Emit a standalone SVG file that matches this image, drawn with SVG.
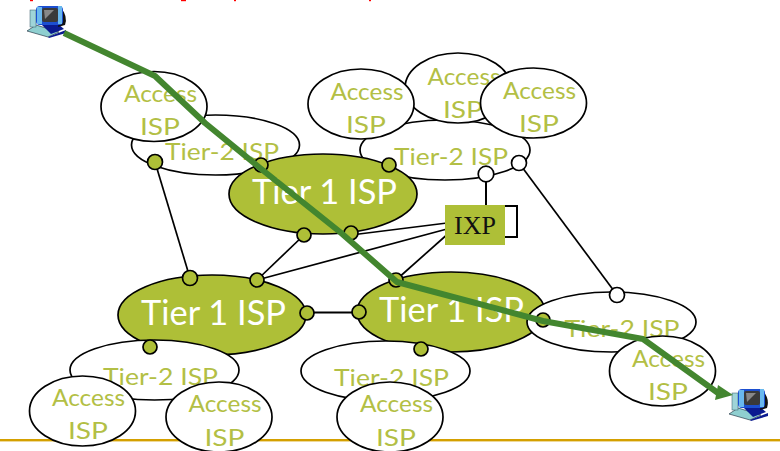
<svg xmlns="http://www.w3.org/2000/svg" width="780" height="451" viewBox="0 0 780 451">
<style>
text{font-family:"Lato","Open Sans",sans-serif;text-anchor:middle}
.e{fill:#fff;stroke:#000;stroke-width:1.7}
.t1{fill:#aebf37;stroke:#000;stroke-width:1.7}
.lbl{fill:#b3bf45;font-size:24px}
.big{fill:#fff;font-size:34px}
.dot{fill:#aebf37;stroke:#000;stroke-width:1.7}
.open{fill:#fff;stroke:#000;stroke-width:1.7}
.ln{stroke:#000;stroke-width:1.7;fill:none}
</style>
<defs>
<g id="pc">
<path d="M0 26L9 20L32 27L21 32z" fill="#8fcfd0" stroke="#123" stroke-width=".6"/>
<path d="M21 32L39 25L39 28L22 33z" fill="#0a1a90"/>
<path d="M14 19H31L37 24L24 29z" fill="#0a1a90"/>
<rect x="3" y="5" width="6" height="17" fill="#9fd4d8" stroke="#356" stroke-width=".5"/>
<path d="M34 3Q41 11 38 20L31 22z" fill="#111"/>
<rect x="9" y="1" width="27" height="19" rx="4" fill="#1c4fd0"/>
<rect x="10" y="2" width="5" height="17" fill="#69b8ee"/>
<rect x="31" y="1" width="4" height="18" fill="#69b8ee"/>
<rect x="15" y="3" width="16" height="14" rx="2" fill="#3a3a3a"/>
<path d="M17 5H27L18 14z" fill="#888"/>
</g>
</defs>
<g id="header-fragments" fill="#f00"><rect x="30" y="0" width="3" height="1.200"/><rect x="181" y="0" width="5" height="1.200"/><rect x="234" y="0" width="2" height="1.200"/><rect x="369" y="0" width="2" height="1.200"/></g>
<rect id="footer-rule" x="0" y="439" width="780" height="2.400" fill="#d4a000"/>
<g id="t2-a"><ellipse class="e" cx="215.500" cy="145" rx="84" ry="30"/><text class="lbl" x="222" y="160" textLength="114" lengthAdjust="spacingAndGlyphs">Tier-2 ISP</text></g>
<g id="t2-b"><ellipse class="e" cx="445" cy="150" rx="85" ry="30"/><text class="lbl" x="451" y="165" textLength="114" lengthAdjust="spacingAndGlyphs">Tier-2 ISP</text></g>
<g id="t1-top"><ellipse class="t1" cx="323" cy="194" rx="94" ry="40"/><text class="big" x="324.500" y="204" textLength="145" lengthAdjust="spacingAndGlyphs">Tier 1 ISP</text></g>
<g id="t1-left"><ellipse class="t1" cx="212" cy="315" rx="94" ry="40"/><text class="big" x="213.500" y="325" textLength="145" lengthAdjust="spacingAndGlyphs">Tier 1 ISP</text></g>
<g id="t1-right"><ellipse class="t1" cx="451" cy="312" rx="94" ry="40"/><text class="big" x="451.500" y="322" textLength="145" lengthAdjust="spacingAndGlyphs">Tier 1 ISP</text></g>
<g id="t2-c"><ellipse class="e" cx="154.500" cy="370" rx="84.500" ry="30"/><text class="lbl" x="160.500" y="385" textLength="115" lengthAdjust="spacingAndGlyphs">Tier-2 ISP</text></g>
<g id="t2-d"><ellipse class="e" cx="385.500" cy="371" rx="84.500" ry="30"/><text class="lbl" x="391.500" y="386" textLength="115" lengthAdjust="spacingAndGlyphs">Tier-2 ISP</text></g>
<g id="t2-e"><ellipse class="e" cx="611.500" cy="322" rx="84.500" ry="30"/><text class="lbl" x="622" y="337" textLength="115" lengthAdjust="spacingAndGlyphs">Tier-2 ISP</text></g>
<g id="a1"><ellipse class="e" cx="154" cy="106.500" rx="53" ry="35"/><text class="lbl" x="160.500" y="102" textLength="73" lengthAdjust="spacingAndGlyphs">Access</text><text class="lbl" x="160" y="135" textLength="40" lengthAdjust="spacingAndGlyphs">ISP</text></g>
<g id="a3"><ellipse class="e" cx="458" cy="88" rx="53" ry="35"/><text class="lbl" x="464" y="85" textLength="73" lengthAdjust="spacingAndGlyphs">Access</text><text class="lbl" x="463" y="118" textLength="40" lengthAdjust="spacingAndGlyphs">ISP</text></g>
<g id="a2"><ellipse class="e" cx="361" cy="104" rx="53" ry="35"/><text class="lbl" x="367" y="100" textLength="73" lengthAdjust="spacingAndGlyphs">Access</text><text class="lbl" x="366" y="133" textLength="40" lengthAdjust="spacingAndGlyphs">ISP</text></g>
<g id="a4"><ellipse class="e" cx="533.500" cy="103" rx="53" ry="35"/><text class="lbl" x="539.500" y="99" textLength="73" lengthAdjust="spacingAndGlyphs">Access</text><text class="lbl" x="539" y="132" textLength="40" lengthAdjust="spacingAndGlyphs">ISP</text></g>
<g id="a5"><ellipse class="e" cx="82.500" cy="411" rx="53" ry="35"/><text class="lbl" x="88.500" y="406" textLength="73" lengthAdjust="spacingAndGlyphs">Access</text><text class="lbl" x="88" y="439" textLength="40" lengthAdjust="spacingAndGlyphs">ISP</text></g>
<g id="a6"><ellipse class="e" cx="219" cy="417" rx="53" ry="35"/><text class="lbl" x="225" y="412" textLength="73" lengthAdjust="spacingAndGlyphs">Access</text><text class="lbl" x="224.500" y="446" textLength="40" lengthAdjust="spacingAndGlyphs">ISP</text></g>
<g id="a7"><ellipse class="e" cx="390" cy="417" rx="53" ry="35"/><text class="lbl" x="396.500" y="412" textLength="73" lengthAdjust="spacingAndGlyphs">Access</text><text class="lbl" x="396" y="446" textLength="40" lengthAdjust="spacingAndGlyphs">ISP</text></g>
<g id="a8"><ellipse class="e" cx="662.500" cy="371" rx="53" ry="35"/><text class="lbl" x="668.500" y="367" textLength="73" lengthAdjust="spacingAndGlyphs">Access</text><text class="lbl" x="668" y="400" textLength="40" lengthAdjust="spacingAndGlyphs">ISP</text></g>
<g id="connectors" class="ln">
<path d="M155 162L190 278"/>
<path d="M257 280L304 235"/>
<path d="M351 235L447 223"/>
<path d="M257 280L447 229"/>
<path d="M396 280L450 232"/>
<path d="M307 312.500H359" stroke-width="2"/>
<path d="M486 174V206" stroke-width="2"/>
<path d="M519 163L617 295"/>
</g>
<g id="ports">
<circle class="dot" cx="155" cy="162" r="7.500"/><circle class="dot" cx="261" cy="165" r="7"/><circle class="dot" cx="389" cy="165" r="7"/>
<circle class="dot" cx="304" cy="235" r="7"/><circle class="dot" cx="351" cy="233" r="7"/>
<circle class="dot" cx="190" cy="278" r="7.500"/><circle class="dot" cx="257" cy="280" r="7"/><circle class="dot" cx="396" cy="280" r="7"/>
<circle class="dot" cx="307" cy="313" r="7"/><circle class="dot" cx="359" cy="312" r="7"/>
<circle class="dot" cx="150" cy="347" r="7"/><circle class="dot" cx="421" cy="349" r="7"/><circle class="dot" cx="543" cy="320" r="7"/>
<circle class="open" cx="486" cy="174" r="7.800"/><circle class="open" cx="519" cy="163" r="7.500"/><circle class="open" cx="617" cy="295" r="7.500"/>
</g>
<g id="ixp"><path d="M505 206H517V237H505" fill="none" stroke="#000" stroke-width="2"/><rect x="445" y="205" width="60" height="40" fill="#aebf37"/><text x="475" y="234" style="font-family:'Liberation Serif',serif;font-size:26px" fill="#111">IXP</text></g>
<g id="pc-src"><use href="#pc" x="27" y="5"/></g>
<g id="pc-dst"><use href="#pc" x="729" y="388"/></g>
<g id="route"><path d="M64 33L155 76L205 123L260 168L340 232L397 282L543 321L643 339L718 393" fill="none" stroke="#43862f" stroke-width="6" stroke-linejoin="round"/><path d="M715 400L718 385L733 395z" fill="#43862f"/></g>
</svg>
